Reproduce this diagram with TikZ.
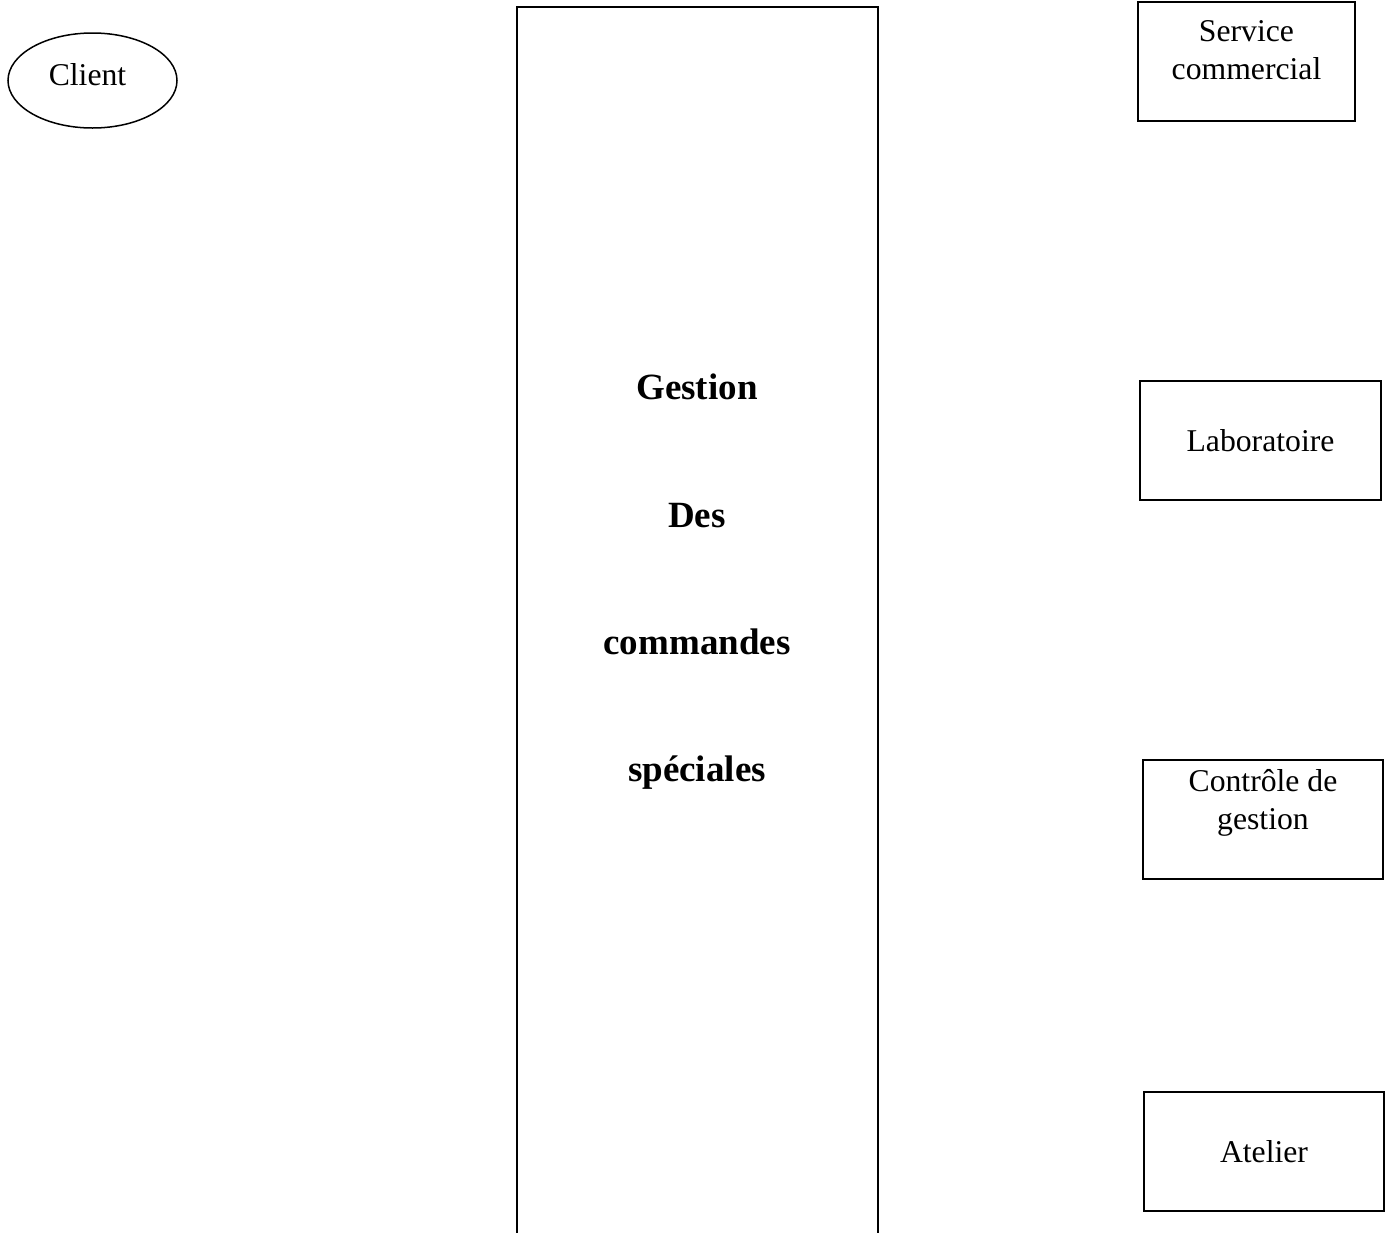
\documentclass[tikz,border=0pt]{standalone}
\usepackage{fontspec}
\setmainfont{Liberation Serif}
\usetikzlibrary{shapes.geometric}
\usetikzlibrary{positioning}
\tikzset{
    acteur/.style = {ellipse, draw=black, line width=1.5pt, minimum width=169pt, minimum height=95pt, inner sep=0pt},
    service/.style = {rectangle, draw=black, line width=1.5pt, minimum height=119pt, inner sep=0pt, align=center},
    systeme/.style = {rectangle, draw=black, line width=1.5pt, minimum width=361pt, minimum height=1253pt, inner sep=0pt},
    titre/.style = {anchor=base, font=\fontsize{37}{44}\selectfont\bfseries},
    every picture/.style={font issue=\fontsize{31.7}{38}\selectfont},
    font issue/.style={execute at begin picture={#1}}
}
\begin{document}
\begin{tikzpicture}[x=1pt,y=-1pt]
  \useasboundingbox (0,0) rectangle (1390,1232);

  % acteur externe
  \node[acteur, text depth=12pt] (client) at (92.5,80.5) {Client\hspace*{10pt}};

  % le systeme
  \node[systeme] (gestion) at (697.5,633.5) {};
  \node[titre] (t1) at (697,399) {Gestion};
  \node[titre] (t2) at (697,527) {Des};
  \node[titre] (t3) at (697,654) {commandes};
  \node[titre] (t4) at (697,781) {spéciales};

  % services
  \node[service, minimum width=217pt, text height=77pt, text depth=42pt] (commercial) at (1246.5,61.5) {Service\\commercial};
  \node[service, minimum width=241pt] (labo) at (1260.5,440.5) {Laboratoire};
  \node[service, minimum width=240pt, text height=69pt, text depth=50pt] (controle) at (1263,819.5) {Contrôle de\\gestion};
  \node[service, minimum width=240pt] (atelier) at (1264,1151.5) {Atelier};

\end{tikzpicture}
\end{document}
